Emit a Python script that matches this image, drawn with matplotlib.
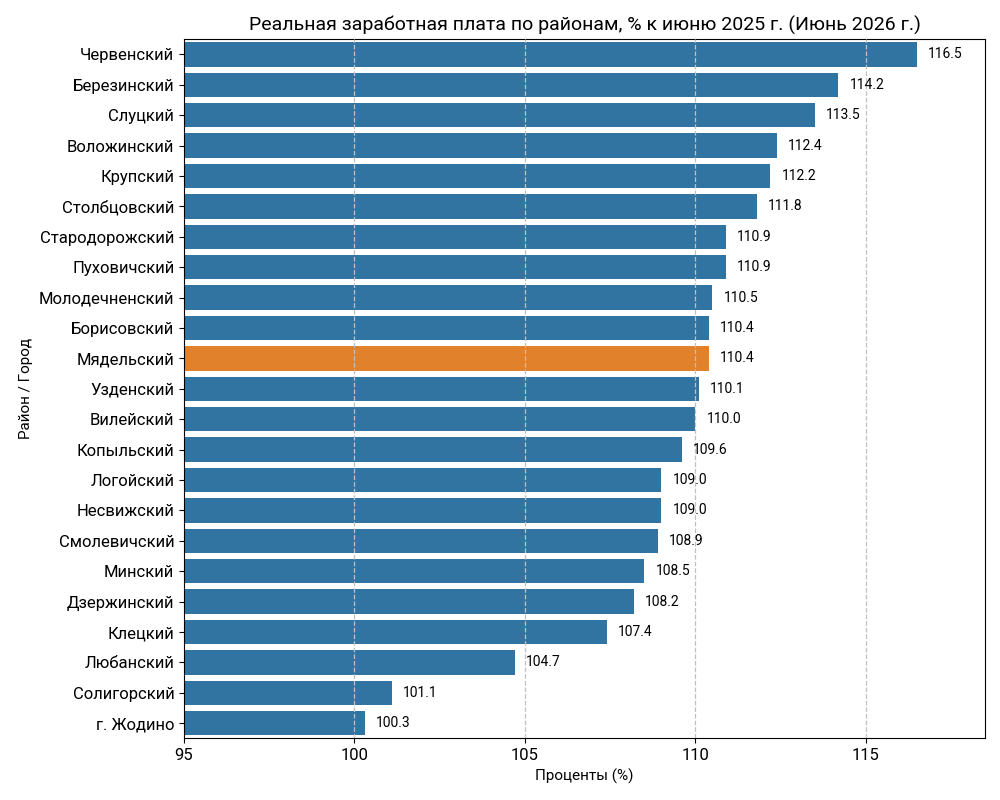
import matplotlib
matplotlib.use('Agg')
import matplotlib.pyplot as plt
import numpy as np

plt.rcParams['font.family'] = ['Roboto', 'DejaVu Sans']

# районы и значения (% к июню 2025 г.)
districts = ['Червенский', 'Березинский', 'Слуцкий', 'Воложинский', 'Крупский',
             'Столбцовский', 'Стародорожский', 'Пуховичский', 'Молодечненский',
             'Борисовский', 'Мядельский', 'Узденский', 'Вилейский', 'Копыльский',
             'Логойский', 'Несвижский', 'Смолевичский', 'Минский', 'Дзержинский',
             'Клецкий', 'Любанский', 'Солигорский', 'г. Жодино']
values = [116.5, 114.2, 113.5, 112.4, 112.2, 111.8, 110.9, 110.9, 110.5,
          110.4, 110.4, 110.1, 110.0, 109.6, 109.0, 109.0, 108.9, 108.5, 108.2,
          107.4, 104.7, 101.1, 100.3]
highlight = 'Мядельский'

colors = ['#e1812c' if d == highlight else '#3274a1' for d in districts]
y = np.arange(len(districts))

fig, ax = plt.subplots(figsize=(10, 8), dpi=100)
ax.barh(y, values, height=0.8, color=colors, zorder=1)

for yi, v in zip(y, values):
    ax.text(v + 0.33, yi, f'{v:.1f}', va='center', ha='left', fontsize=10, zorder=3)

ax.set_yticks(y)
ax.set_yticklabels(districts, fontsize=12)
ax.set_ylim(len(districts) - 0.5, -0.5)
ax.set_xlim(95, 118.5)
ax.set_xticks([95, 100, 105, 110, 115])
ax.tick_params(axis='x', labelsize=12)

ax.grid(axis='x', linestyle='--', color='#c0c0c0', linewidth=0.9, zorder=2)
ax.set_axisbelow(False)
ax.get_xgridlines()[0].set_visible(False)

ax.set_title('Реальная заработная плата по районам, % к июню 2025 г. (Июнь 2026 г.)', fontsize=14)
ax.set_xlabel('Проценты (%)', fontsize=11)
ax.set_ylabel('Район / Город', fontsize=11)

plt.subplots_adjust(left=0.184, right=0.985, top=0.951, bottom=0.077)
plt.savefig('out.png', dpi=100)
